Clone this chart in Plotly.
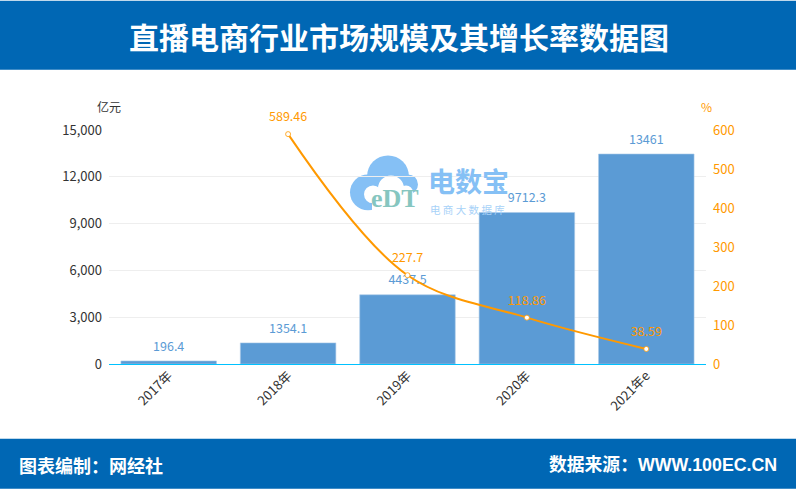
import plotly.graph_objects as go

W, H = 796, 489
L, R, T, B = 109, 706, 129.5, 364

categories = ["2017年", "2018年", "2019年", "2020年", "2021年e"]
market_size = [196.4, 1354.1, 4437.5, 9712.3, 13461]
market_labels = ["196.4", "1354.1", "4437.5", "9712.3", "13461"]
growth_categories = ["2018年", "2019年", "2020年", "2021年e"]
growth_rate = [589.46, 227.7, 118.86, 38.59]
growth_labels = ["589.46", "227.7", "118.86", "38.59"]
left_ticks = [0, 3000, 6000, 9000, 12000, 15000]
right_ticks = [0, 100, 200, 300, 400, 500, 600]

CJK = "Noto Sans CJK SC"
LATIN_CJK = "Liberation Sans, Noto Sans CJK SC"
BLUE = "#5b9bd5"
ORANGE = "#ff9900"
HEADER = "#0067b4"
CLOUD = "#85c0f5"


def px(x):
    return (x - L) / (R - L)


def py(y):
    return (B - y) / (B - T)


def rect(x0, y0, x1, y1, color):
    return dict(type="rect", xref="paper", yref="paper", x0=px(x0), x1=px(x1),
                y0=py(y1), y1=py(y0), fillcolor=color, line_width=0, layer="below")


def circle(cx, cy, r, color):
    return dict(type="circle", xref="paper", yref="paper", x0=px(cx - r), x1=px(cx + r),
                y0=py(cy + r), y1=py(cy - r), fillcolor=color, line_width=0, layer="below")


def note(x, y, text, size, color, anchor="center", bold=False, family=CJK):
    return dict(xref="paper", yref="paper", x=px(x), y=py(y), text=f"<b>{text}</b>" if bold else text,
                showarrow=False, xanchor=anchor, yanchor="middle",
                font=dict(size=size, color=color, family=family))


fig = go.Figure()
fig.add_trace(go.Bar(
    x=categories, y=market_size,
    marker=dict(color=BLUE, line=dict(color="#a9c9e8", width=0.6)), yaxis="y", showlegend=False,
))
fig.add_trace(go.Scatter(
    x=categories, y=market_size, text=market_labels, mode="markers+text",
    textposition="top center", textfont=dict(color=BLUE, size=12.5, family=CJK), cliponaxis=False,
    marker=dict(size=10, opacity=0), yaxis="y", showlegend=False, hoverinfo="skip",
))
fig.add_trace(go.Scatter(
    x=growth_categories, y=growth_rate, mode="lines+markers", cliponaxis=False,
    line=dict(color=ORANGE, width=2, shape="spline", smoothing=1.0),
    marker=dict(color="white", size=5, line=dict(color=ORANGE, width=0.8)),
    yaxis="y2", showlegend=False,
))
fig.add_trace(go.Scatter(
    x=growth_categories, y=growth_rate, text=growth_labels, mode="markers+text",
    textposition="top center", textfont=dict(color=ORANGE, size=12.5, family=CJK), cliponaxis=False,
    marker=dict(size=14, opacity=0), yaxis="y2", showlegend=False, hoverinfo="skip",
))

shapes = [
    rect(0, 0, W, 69, HEADER),
    rect(0, 439, W, H, HEADER),
    circle(368, 192, 18, CLOUD),
    circle(388, 176, 21, CLOUD),
    circle(408, 184, 10, CLOUD),
    rect(372, 194, 418, 211, "white"),
    circle(373, 194, 9, "white"),
    circle(391, 188, 13, "white"),
    circle(406, 192, 7, "white"),
]

annotations = [
    note(399, 35, "直播电商行业市场规模及其增长率数据图", 30, "white", bold=True),
    note(17, 465, "图表编制：网经社", 18, "white", "left", bold=True),
    note(779, 465, "数据来源：WWW.100EC.CN", 17.8, "white", "right", bold=True, family=LATIN_CJK),
    note(109, 106, "亿元", 12, "#333333"),
    note(706, 106, "%", 12, ORANGE),
    note(395, 198, "eDT", 26, "#86c6c0", bold=True, family="Liberation Serif"),
    note(469, 180, "电数宝", 27, CLOUD, bold=True),
    note(467, 209, "电 商 大 数 据 库", 10.5, "#a8d2f8"),
]

fig.update_layout(
    width=W, height=H, autosize=False,
    margin=dict(l=L, r=W - R, t=T, b=H - B, pad=0),
    paper_bgcolor="white", plot_bgcolor="white",
    bargap=0.2,
    font=dict(family=CJK, size=12, color="#333333"),
    shapes=shapes, annotations=annotations,
    xaxis=dict(
        type="category", categoryorder="array", categoryarray=categories,
        tickangle=-45, showgrid=False, ticks="", showline=True, ticklabelstandoff=-2,
        linecolor="#00c2ff", linewidth=1, tickfont=dict(size=13, color="#333333"),
    ),
    yaxis=dict(
        range=[0, 15000], tickvals=left_ticks, tickformat=",d", gridcolor="#eeeeee",
        zeroline=False, showline=False, ticks="", ticklabelstandoff=6,
        tickfont=dict(size=13, color="#333333"),
    ),
    yaxis2=dict(
        range=[0, 600], tickvals=right_ticks, overlaying="y", side="right", showgrid=False,
        zeroline=False, showline=False, ticks="", ticklabelstandoff=6,
        tickfont=dict(size=13, color=ORANGE),
    ),
)

fig.write_html("out.html", config=dict(displayModeBar=False),
               post_script="document.body.style.margin='0';document.documentElement.style.overflow='hidden';")
